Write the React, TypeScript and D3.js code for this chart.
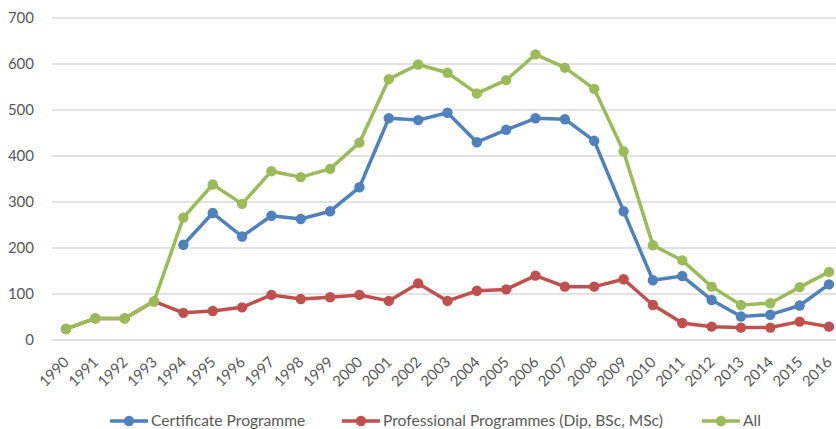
import React from "react";
import * as d3 from "d3";

const years = [
  "1990","1991","1992","1993","1994","1995","1996","1997","1998","1999",
  "2000","2001","2002","2003","2004","2005","2006","2007","2008","2009",
  "2010","2011","2012","2013","2014","2015","2016",
];

const certificate: (number | null)[] = [
  null, null, null, null, 207, 276, 225, 270, 263, 280,
  332, 482, 478, 494, 430, 457, 482, 480, 433, 280,
  130, 139, 87, 51, 55, 75, 121,
];

const professional: (number | null)[] = [
  24, 47, 47, 84, 59, 63, 71, 98, 89, 93,
  98, 85, 123, 85, 107, 110, 140, 116, 116, 132,
  76, 37, 29, 27, 27, 40, 29,
];

const all: (number | null)[] = [
  24, 47, 47, 84, 266, 338, 296, 367, 354, 372,
  429, 567, 599, 581, 536, 565, 621, 592, 546, 410,
  206, 173, 116, 76, 80, 115, 148,
];

const yTicks = [0, 100, 200, 300, 400, 500, 600, 700];

const seriesNames = [
  "Certificate Programme",
  "Professional Programmes (Dip, BSc, MSc)",
  "All",
];
const seriesColors = ["#4F81BD", "#C0504D", "#9BBB59"];
const seriesData = [certificate, professional, all];

const W = 836;
const H = 429;
const FONT = "Lato, 'Open Sans', sans-serif";

export default function App() {
  const x = d3.scalePoint<string>().domain(years).range([66, 829]);
  const y = d3.scaleLinear().domain([0, 700]).range([340, 18]);

  const line = d3
    .line<number | null>()
    .defined((d) => d !== null)
    .x((_, i) => x(years[i]) as number)
    .y((d) => y(d as number));

  const legendItems = [
    { lx: 110, tx: 151 },
    { lx: 342, tx: 383 },
    { lx: 702, tx: 743 },
  ];

  return (
    <svg
      width={W}
      height={H}
      style={{ position: "absolute", left: 0, top: 0, background: "#fff" }}
      fontFamily={FONT}
    >
      {yTicks.map((t) => (
        <g key={t}>
          <line x1={52} x2={W} y1={y(t)} y2={y(t)} stroke="#D9D9D9" strokeWidth={1.3} />
          <text
            x={34}
            y={y(t)}
            dy="0.35em"
            textAnchor="end"
            fontSize={15}
            fill="#595959"
          >
            {t}
          </text>
        </g>
      ))}

      {years.map((yr) => (
        <text
          key={yr}
          transform={`translate(${(x(yr) as number) + 4},363) rotate(-45)`}
          textAnchor="end"
          fontSize={15}
          fill="#595959"
        >
          {yr}
        </text>
      ))}

      {seriesData.map((s, si) => (
        <g key={si}>
          <path
            d={line(s) || ""}
            fill="none"
            stroke={seriesColors[si]}
            strokeWidth={3.5}
            strokeLinejoin="round"
          />
          {s.map((v, i) =>
            v === null ? null : (
              <circle
                key={i}
                cx={x(years[i]) as number}
                cy={y(v)}
                r={5.2}
                fill={seriesColors[si]}
              />
            )
          )}
        </g>
      ))}

      {seriesNames.map((n, i) => (
        <g key={n}>
          <line
            x1={legendItems[i].lx}
            x2={legendItems[i].lx + 38}
            y1={421}
            y2={421}
            stroke={seriesColors[i]}
            strokeWidth={3.5}
          />
          <circle cx={legendItems[i].lx + 19} cy={421} r={5.2} fill={seriesColors[i]} />
          <text
            x={legendItems[i].tx}
            y={421}
            dy="0.35em"
            fontSize={15.6}
            fill="#595959"
          >
            {n}
          </text>
        </g>
      ))}
    </svg>
  );
}
